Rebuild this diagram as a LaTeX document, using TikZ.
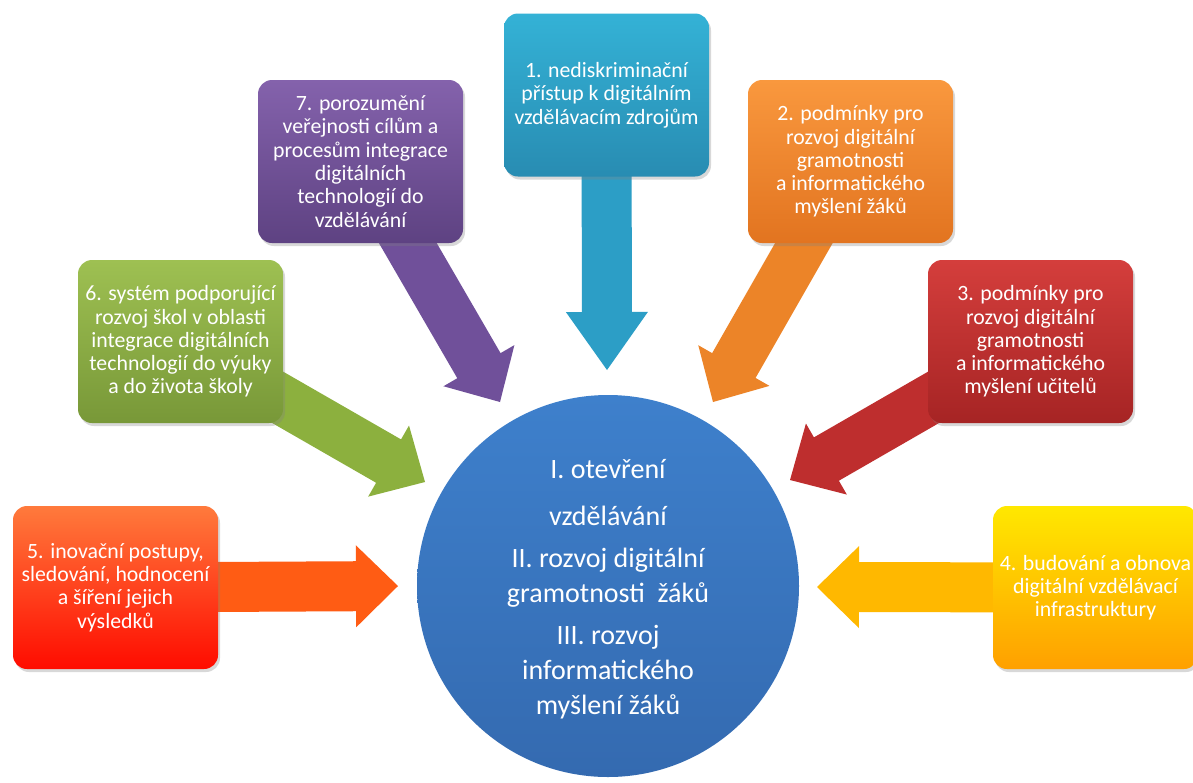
\documentclass[tikz,border=0pt]{standalone}
\usepackage{fontspec}
\setmainfont{Carlito}
\usetikzlibrary{calc,shadows}
\definecolor{tealT}{RGB}{52,178,214}\definecolor{tealB}{RGB}{40,140,178}\definecolor{tealA}{RGB}{44,158,198}
\definecolor{orgT}{RGB}{249,152,62}\definecolor{orgB}{RGB}{226,116,32}\definecolor{orgA}{RGB}{236,132,40}
\definecolor{redT}{RGB}{212,62,60}\definecolor{redB}{RGB}{166,36,36}\definecolor{redA}{RGB}{190,46,46}
\definecolor{yelT}{RGB}{255,232,0}\definecolor{yelB}{RGB}{255,160,0}\definecolor{yelA}{RGB}{255,184,0}
\definecolor{roT}{RGB}{255,122,60}\definecolor{roB}{RGB}{255,12,0}\definecolor{roA}{RGB}{255,92,20}
\definecolor{grnT}{RGB}{158,192,82}\definecolor{grnB}{RGB}{120,152,56}\definecolor{grnA}{RGB}{140,176,62}
\definecolor{purT}{RGB}{132,98,172}\definecolor{purB}{RGB}{94,66,130}\definecolor{purA}{RGB}{112,80,154}
\definecolor{cirT}{RGB}{62,128,204}\definecolor{cirB}{RGB}{52,106,176}
\tikzset{
  box/.style={rounded corners=14pt, minimum width=205pt, minimum height=163pt,
    inner sep=0pt, align=center, text=white,
    font=\fontsize{21.8}{23.3}\selectfont,
    drop shadow={opacity=0.3, shadow xshift=2pt, shadow yshift=-3pt}},
  hub/.style={circle, minimum size=382pt, inner sep=0pt, top color=cirT, bottom color=cirB},
  hubtext/.style={align=center, text=white, font=\fontsize{28}{35}\selectfont}
}
% #1 colour, #2 start, #3 tip, #4 head length
\newcommand\blockarrow[4]{%
  \coordinate (H) at ($(#3)!#4!(#2)$);
  \fill[#1] (#3) -- ($(H)!41pt!90:(#2)$) -- ($(H)!25pt!90:(#2)$)
    -- ($(#2)!25pt!-90:(#3)$) -- ($(#2)!25pt!90:(#3)$)
    -- ($(H)!25pt!-90:(#2)$) -- ($(H)!41pt!-90:(#2)$) -- cycle;
}
\begin{document}
\begin{tikzpicture}[x=1pt,y=-1pt]
\useasboundingbox (0,0) rectangle (1193,782);
\fill[white] (0,0) rectangle (1193,782);
% tips
\coordinate (t1) at (607,370);
\coordinate (t2) at (713,402);
\coordinate (t3) at (790,480);
\coordinate (t4) at (817,587);
\coordinate (t5) at (398,586);
\coordinate (t6) at (425,482);
\coordinate (t7) at (500,402);
% box centres
\coordinate (c1) at (606.5,95);
\coordinate (c2) at (850.5,161.5);
\coordinate (c3) at (1030.5,341.5);
\coordinate (c4) at (1095.5,587.5);
\coordinate (c5) at (115.5,587.5);
\coordinate (c6) at (180.5,341.5);
\coordinate (c7) at (360.5,161.5);
% arrows
\blockarrow{tealA}{c1}{t1}{58pt}
\blockarrow{orgA}{c2}{t2}{42pt}
\blockarrow{redA}{c3}{t3}{42pt}
\blockarrow{yelA}{c4}{t4}{42pt}
\blockarrow{roA}{c5}{t5}{42pt}
\blockarrow{grnA}{c6}{t6}{42pt}
\blockarrow{purA}{c7}{t7}{42pt}
% boxes
\node[box, top color=tealT, bottom color=tealB] (b1) at (c1)
  {1. nediskriminační\\přístup k digitálním\\vzdělávacím zdrojům};
\node[box, top color=orgT, bottom color=orgB] (b2) at (c2)
  {2. podmínky pro\\rozvoj digitální\\gramotnosti\\a informatického\\myšlení žáků};
\node[box, top color=redT, bottom color=redB] (b3) at (c3)
  {3. podmínky pro\\rozvoj digitální\\gramotnosti\\a informatického\\myšlení učitelů};
\node[box, top color=yelT, bottom color=yelB] (b4) at (c4)
  {4. budování a obnova\\digitální vzdělávací\\infrastruktury};
\node[box, top color=roT, bottom color=roB] (b5) at (c5)
  {5. inovační postupy,\\sledování, hodnocení\\a šíření jejich\\výsledků};
\node[box, top color=grnT, bottom color=grnB] (b6) at (c6)
  {6. systém podporující\\rozvoj škol v oblasti\\integrace digitálních\\technologií do výuky\\a do života školy};
\node[box, top color=purT, bottom color=purB] (b7) at (c7)
  {7. porozumění\\veřejnosti cílům a\\procesům integrace\\digitálních\\technologií do\\vzdělávání};
% hub
\node[hub] (hub) at (608,586) {};
\node[hubtext] (hubt) at ($(hub.center)+(0,3)$)
  {I. otevření\\[12pt]vzdělávání\\[7pt]II. rozvoj digitální\\gramotnosti\ \ žáků\\[7pt]III. rozvoj\\informatického\\myšlení žáků};
\end{tikzpicture}
\end{document}
